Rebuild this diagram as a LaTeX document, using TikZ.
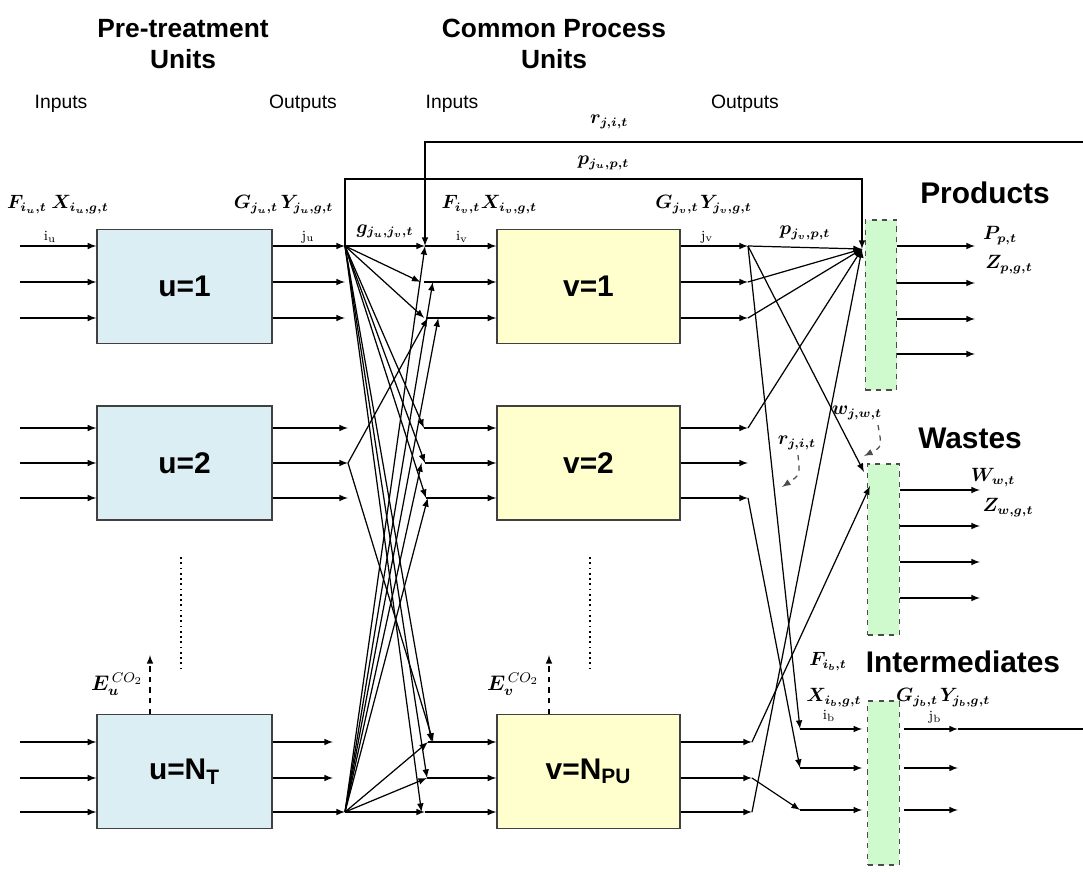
\documentclass[tikz,border=0pt]{standalone}
\usepackage{amsmath}
\usepackage{bm}
\usepackage{fontspec}
\setsansfont{Liberation Sans}
\usetikzlibrary{arrows}
\usetikzlibrary{positioning}

\definecolor{unitblue}{RGB}{219,238,243}
\definecolor{procyellow}{RGB}{255,255,206}
\definecolor{sinkgreen}{RGB}{206,250,206}

\tikzset{
  ubox/.style={draw=black!75, line width=0.8pt, fill=unitblue, minimum width=3.5cm, minimum height=2.28cm, font=\sffamily\bfseries\fontsize{17}{17}\selectfont},
  vbox/.style={ubox, fill=procyellow, minimum width=3.66cm},
  sink/.style={draw=black!70, dashed, line width=0.7pt, fill=sinkgreen, minimum width=0.63cm, inner sep=0pt},
  flow/.style={->, >=latex, line width=0.7pt},
  mlab/.style={inner sep=0pt, font=\fontsize{10.5}{10.5}\selectfont},
  slab/.style={inner sep=0pt, font=\fontsize{8}{8}\selectfont},
  elab/.style={inner sep=0pt, font=\fontsize{12}{12}\selectfont},
  head/.style={align=center, font=\sffamily\bfseries\fontsize{15}{18}\selectfont},
  sect/.style={font=\sffamily\bfseries\fontsize{17}{17}\selectfont},
  io/.style={font=\sffamily\fontsize{11}{11}\selectfont}
}

\begin{document}
\begin{tikzpicture}[x=0.02cm, y=-0.02cm]
    \useasboundingbox (0,0) rectangle (1083,872);

    \node[head] (hpre) at (183,44) {Pre-treatment\\Units};
    \node[head] (hcom) at (554,44) {Common Process\\Units};
    \node[io] (inu) at (61,104) {Inputs};
    \node[io] (outu) at (303,104) {Outputs};
    \node[io] (inv) at (452,104) {Inputs};
    \node[io] (outv) at (745,104) {Outputs};

    \node[ubox] (u1) at (184.5,286.5) {u=1};
    \node[ubox] (u2) at (184.5,463) {u=2};
    \node[ubox] (uN) at (184.5,771.5) {u=N\textsubscript{T}};
    \node[vbox] (v1) at (588.5,286.5) {v=1};
    \node[vbox] (v2) at (588.5,463) {v=2};
    \node[vbox] (vN) at (588.5,771.5) {v=N\textsubscript{PU}};

    \node[sink, minimum height=3.4cm] (prod) at (881,305) {};
    \node[sink, minimum height=3.42cm] (wast) at (883.5,549.5) {};
    \node[sink, minimum height=3.28cm] (intm) at (883.5,783) {};
    \node[sect] (lprod) at (985,193) {Products};
    \node[sect] (lwast) at (970,438) {Wastes};
    \node[sect] (lint) at (963,662) {Intermediates};

    % unit inputs and outputs
    \foreach \b/\k/\y/\xo in {u1/1/246/345, u1/2/282/345, u1/3/318/345,
        u2/1/428/348, u2/2/463/348, u2/3/498/348,
        uN/1/742/333, uN/2/778/333, uN/3/812/345,
        v1/1/246/748, v1/2/282/748, v1/3/318/748,
        v2/1/428/748, v2/2/463/748, v2/3/498/748,
        vN/1/742/752, vN/2/778/752, vN/3/812/752}{
      \coordinate (\b-o\k) at (\xo,\y);
      \draw[flow] (\b-o\k -| \b.east) -- (\b-o\k);
    }
    \foreach \b/\k/\y/\xi in {u1/1/246/20, u1/2/282/20, u1/3/318/20,
        u2/1/428/20, u2/2/463/20, u2/3/498/20,
        uN/1/742/20, uN/2/778/20, uN/3/812/20,
        v1/1/246/425, v1/2/282/424, v1/3/318/426,
        v2/1/428/424, v2/2/463/425, v2/3/498/426,
        vN/1/742/428, vN/2/778/427, vN/3/812/425}{
      \coordinate (\b-i\k) at (\xi,\y);
      \draw[flow] (\b-i\k) -- (\b-i\k -| \b.west);
    }

    % pre-treatment to process units
    \draw[flow] (u1-o1) -- node[mlab, above=4pt] {$\bm{g_{j_u,j_v,t}}$} (v1-i1);
    \foreach \t/\dx in {v1-i2/-2pt, v1-i3/-1pt, v2-i1/0pt, v2-i2/0pt, v2-i3/0pt,
        vN-i1/2pt, vN-i2/0pt, vN-i3/-2pt}
      \draw[flow] (u1-o1) -- ([xshift=\dx]\t);
    \foreach \t/\dx in {v1-i3/1pt, vN-i1/3pt}
      \draw[flow] (u2-o2) -- ([xshift=\dx]\t);
    \foreach \t/\dx in {v1-i1/0pt, v1-i2/5pt, v1-i3/7pt, v2-i2/-2pt, v2-i3/1pt,
        vN-i1/0pt, vN-i2/0pt}
      \draw[flow] (uN-o3) -- ([xshift=\dx]\t);
    \draw[flow] (uN-o3) -- (vN-i3);

    % recycle and by-pass lines
    \coordinate (ptopl) at (345,179);
    \coordinate (ptopr) at (862,179);
    \coordinate (PJ) at (862,249);
    \draw[flow] (u1-o1) -- (ptopl) -- node[mlab, above=5pt] {$\bm{p_{j_u,p,t}}$} (ptopr) -- (PJ);
    \coordinate (redge) at (1083,142);
    \coordinate (rtop) at (425,142);
    \draw[flow] (redge) -- node[mlab, pos=0.72, above=7pt] {$\bm{r_{j,i,t}}$} (rtop) -- (v1-i1);

    % process units to sinks
    \coordinate (WJa) at (864,472);
    \coordinate (WJb) at (870,486);
    \draw[flow] (v1-o1) -- node[mlab, above=4pt] {$\bm{p_{j_v,p,t}}$} (PJ);
    \foreach \s in {v1-o2, v1-o3, v2-o1, vN-o3}
      \draw[flow] (\s) -- (PJ);
    \draw[flow] (v1-o1) -- (WJa);
    \draw[flow] (vN-o1) -- (WJb);
    \foreach \k/\y in {1/729, 2/768, 3/810}{
      \coordinate (ib\k) at (800,\y);
      \coordinate (jb\k) at (958,\y);
      \draw[flow] (ib\k) -- ([xshift=-0.1cm]ib\k -| intm.west);
      \draw[flow] ([xshift=0.08cm]jb\k -| intm.east) -- (jb\k);
    }
    \draw[flow] (v1-o1) -- (ib1);
    \draw[flow] (v2-o3) -- (ib2);
    \draw[flow] (vN-o2) -- (ib3);
    \coordinate (jbend) at (1083,729);
    \draw[line width=0.7pt] (jb1) -- (jbend);

    \foreach \k/\y in {1/246, 2/283, 3/319, 4/354}{
      \coordinate (pp\k) at (975,\y);
      \draw[flow] (pp\k -| prod.east) -- (pp\k);
    }
    \foreach \k/\y in {1/490, 2/526, 3/562, 4/598}{
      \coordinate (ww\k) at (980,\y);
      \draw[flow] (ww\k -| wast.east) -- (ww\k);
    }

    % emissions and continuation dots
    \coordinate (eua) at (150,655);
    \coordinate (eva) at (549,655);
    \draw[flow, dashed] (eua |- uN.north) -- (eua);
    \draw[flow, dashed] (eva |- vN.north) -- (eva);
    \coordinate (dua) at (181,557);
    \coordinate (dub) at (181,668);
    \coordinate (dva) at (590,557);
    \coordinate (dvb) at (590,668);
    \draw[dotted, line width=1pt] (dua) -- (dub);
    \draw[dotted, line width=1pt] (dva) -- (dvb);

    \coordinate (wa) at (878,425);
    \coordinate (wb) at (864,456);
    \draw[flow, dashed, black!70] (wa) .. controls (882,447) .. (wb);
    \coordinate (ra) at (798,455);
    \coordinate (rb) at (782,487);
    \draw[flow, dashed, black!70] (ra) .. controls (800,475) .. (rb);

    % labels
    \node[mlab] (fu) at (27,205) {$\bm{F_{i_u,t}}$};
    \node[mlab] (xu) at (80,205) {$\bm{X_{i_u,g,t}}$};
    \node[slab] (iu) at (50,237) {$\mathrm{i}_\mathrm{u}$};
    \node[mlab] (gu) at (256,205) {$\bm{G_{j_u,t}}$};
    \node[mlab] (yu) at (307,205) {$\bm{Y_{j_u,g,t}}$};
    \node[slab] (ju) at (308,237) {$\mathrm{j}_\mathrm{u}$};
    \node[mlab] (fv) at (461,205) {$\bm{F_{i_v,t}}$};
    \node[mlab] (xv) at (509,205) {$\bm{X_{i_v,g,t}}$};
    \node[slab] (iv) at (462,237) {$\mathrm{i}_\mathrm{v}$};
    \node[mlab] (gv) at (677,205) {$\bm{G_{j_v,t}}$};
    \node[mlab] (yv) at (726,205) {$\bm{Y_{j_v,g,t}}$};
    \node[slab] (jv) at (707,237) {$\mathrm{j}_\mathrm{v}$};
    \node[mlab] (ppt) at (1000,236) {$\bm{P_{p,t}}$};
    \node[mlab] (zpt) at (1009,265) {$\bm{Z_{p,g,t}}$};
    \node[mlab] (wwt) at (993,478) {$\bm{W_{w,t}}$};
    \node[mlab] (zwt) at (1008,508) {$\bm{Z_{w,g,t}}$};
    \node[mlab] (fb) at (828,662) {$\bm{F_{i_b,t}}$};
    \node[mlab] (xb) at (834,698) {$\bm{X_{i_b,g,t}}$};
    \node[slab] (ibl) at (829,716) {$\mathrm{i}_\mathrm{b}$};
    \node[mlab] (gb) at (917,698) {$\bm{G_{j_b,t}}$};
    \node[mlab] (yb) at (965,698) {$\bm{Y_{j_b,g,t}}$};
    \node[slab] (jbl) at (935,717) {$\mathrm{j}_\mathrm{b}$};
    \node[mlab] (wl) at (857,413) {$\bm{w_{j,w,t}}$};
    \node[mlab] (rl) at (797,443) {$\bm{r_{j,i,t}}$};
    \node[elab] (eu) at (117,684) {$\bm{E_u}^{\,CO_2}$};
    \node[elab] (ev) at (513,684) {$\bm{E_v}^{\,CO_2}$};
\end{tikzpicture}
\end{document}
